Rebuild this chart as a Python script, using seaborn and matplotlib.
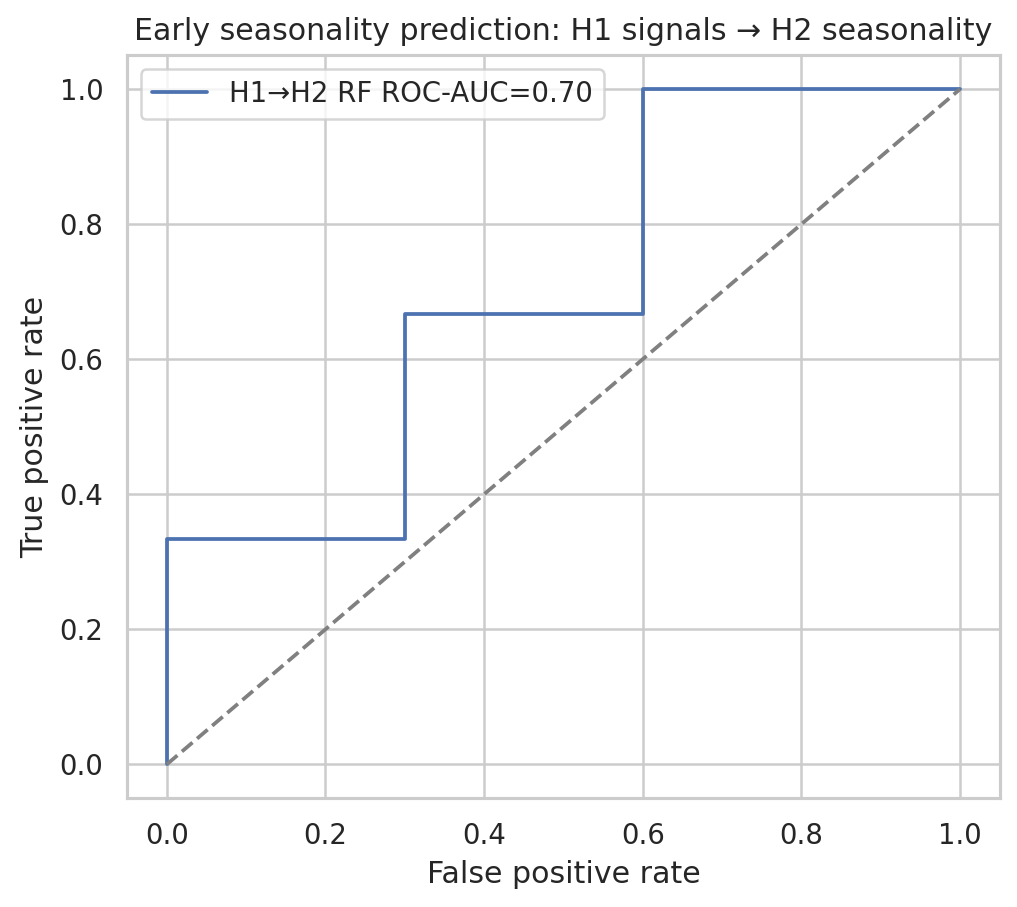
import matplotlib
matplotlib.use("Agg")
import matplotlib.pyplot as plt
import seaborn as sns
import pandas as pd

fpr = [0.0, 0.0, 0.3, 0.3, 0.6, 0.6, 1.0]
tpr = [0.0, 1/3, 1/3, 2/3, 2/3, 1.0, 1.0]
diag_x = [0.0, 1.0]
diag_y = [0.0, 1.0]
auc_label = "H1→H2 RF ROC-AUC=0.70"

sns.set_theme(style="whitegrid")
plt.rcParams['font.family'] = ['DejaVu Sans']

fig, ax = plt.subplots(figsize=(1017/180, 907/180), dpi=180)
fig.subplots_adjust(left=0.125, right=0.983, top=0.939, bottom=0.120)
df = pd.DataFrame({"fpr": fpr, "tpr": tpr})
ax.plot(df["fpr"], df["tpr"], color=sns.color_palette("deep")[0], lw=1.5, label=auc_label)
ax.plot(diag_x, diag_y, linestyle="--", color="gray", lw=1.5)
ax.set_xlabel("False positive rate")
ax.set_ylabel("True positive rate")
ax.set_title("Early seasonality prediction: H1 signals → H2 seasonality")
ax.legend(loc="upper left")
fig.savefig("out.png", dpi=180)
